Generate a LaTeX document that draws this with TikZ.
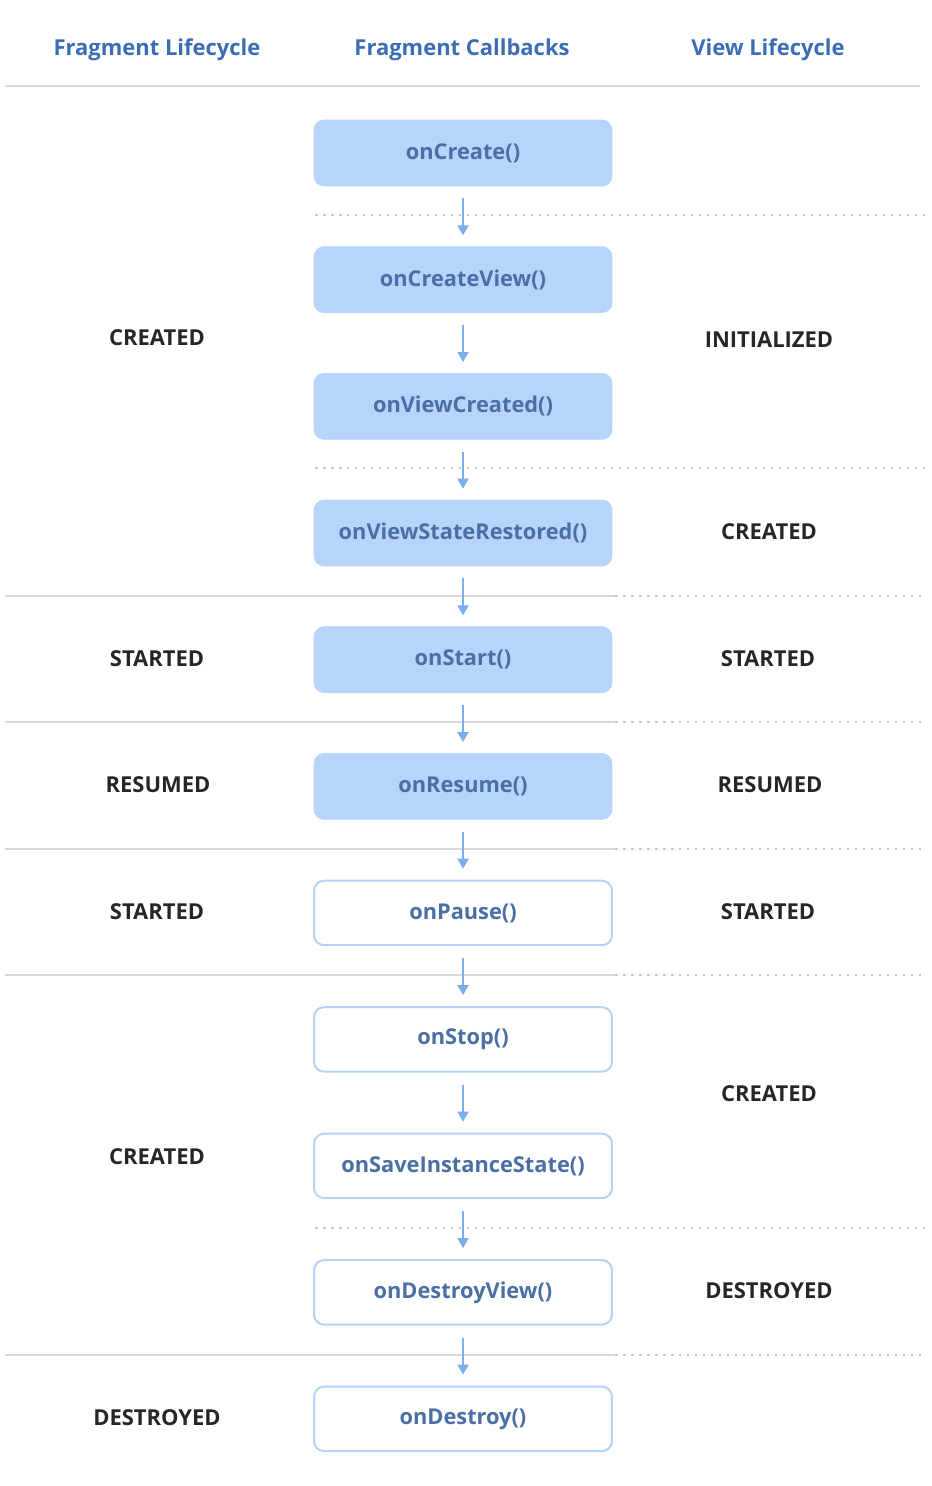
\documentclass[tikz,border=0pt]{standalone}
\usepackage{fontspec}
\setmainfont{Open Sans}
\usepackage{xcolor}
\usetikzlibrary{arrows.meta, positioning, calc}

\definecolor{cbfill}{HTML}{B7D4FA}
\definecolor{cbline}{HTML}{B5D2F8}
\definecolor{cbtext}{HTML}{4A6FA5}
\definecolor{headblue}{HTML}{3C6DB4}
\definecolor{arrowblue}{HTML}{7BAEEB}
\definecolor{sepgray}{HTML}{D9D9D9}
\definecolor{dotgray}{HTML}{C8C8C8}

\begin{document}
\begin{tikzpicture}[
    x=0.02cm, y=-0.02cm,
    node distance=1.2cm,
    cb/.style={rectangle, rounded corners=0.2cm, minimum width=5.96cm, align=center, font=\bfseries\fontsize{12.4}{14}\selectfont, text=cbtext},
    active/.style={cb, fill=cbfill, draw=cbfill, minimum height=1.32cm},
    passive/.style={cb, fill=white, draw=cbline, line width=0.04cm, minimum height=1.29cm},
    state/.style={font=\bfseries\fontsize{12.5}{14}\selectfont, text=black!85},
    head/.style={font=\bfseries\fontsize{12.5}{14}\selectfont, text=headblue},
    arrow/.style={-{Triangle[width=0.22cm, length=0.2cm]}, line width=0.04cm, draw=arrowblue, shorten <=0.24cm, shorten >=0.22cm},
    sep/.style={line width=0.05cm, draw=sepgray},
    dots/.style={line width=0.035cm, draw=dotgray, dash pattern=on 0.05cm off 0.11cm}
]
    \useasboundingbox (0,0) rectangle (932,1486);

    % Column headers
    \node[head] (fraglc) at (157,50) {Fragment Lifecycle};
    \node[head] (fragcb) at (462,50) {Fragment Callbacks};
    \node[head] (viewlc) at (768,50) {View Lifecycle};
    \draw[sep] (5,86) -- (920,86);

    % Separators
    \draw[dots] (315,215) -- (925,215);
    \draw[dots] (315,468) -- (925,468);
    \draw[sep] (5,596) -- (615,596);  \draw[dots] (615,596) -- (925,596);
    \draw[sep] (5,722) -- (615,722);  \draw[dots] (615,722) -- (925,722);
    \draw[sep] (5,849) -- (615,849);  \draw[dots] (615,849) -- (925,849);
    \draw[sep] (5,975) -- (615,975);  \draw[dots] (615,975) -- (925,975);
    \draw[dots] (315,1228) -- (925,1228);
    \draw[sep] (5,1355) -- (615,1355); \draw[dots] (615,1355) -- (925,1355);

    % Callbacks
    \node[active] (create) at (463,153) {onCreate()};
    \node[active, below=of create] (createview) {onCreateView()};
    \node[active, below=of createview] (viewcreated) {onViewCreated()};
    \node[active, below=of viewcreated] (restored) {onViewStateRestored()};
    \node[active, below=of restored] (start) {onStart()};
    \node[active, below=of start] (resume) {onResume()};
    \node[passive, below=of resume] (pause) {onPause()};
    \node[passive, below=of pause] (stop) {onStop()};
    \node[passive, below=of stop] (save) {onSaveInstanceState()};
    \node[passive, below=of save] (destroyview) {onDestroyView()};
    \node[passive, below=of destroyview] (destroy) {onDestroy()};

    % Fragment states
    \node[state] (fcreated) at (157,338) {CREATED};
    \node[state] (fstarted) at (157,659) {STARTED};
    \node[state] (fresumed) at (158,785) {RESUMED};
    \node[state] (fstopped) at (157,912) {STARTED};
    \node[state] (fcreated2) at (157,1157) {CREATED};
    \node[state] (fdestroyed) at (157,1418) {DESTROYED};

    % View states
    \node[state] (vinit) at (769,340) {INITIALIZED};
    \node[state] (vcreated) at (769,532) {CREATED};
    \node[state] (vstarted) at (768,659) {STARTED};
    \node[state] (vresumed) at (770,785) {RESUMED};
    \node[state] (vstopped) at (768,912) {STARTED};
    \node[state] (vcreated2) at (769,1094) {CREATED};
    \node[state] (vdestroyed) at (769,1291) {DESTROYED};

    % Connections
    \draw[arrow] (create) -- (createview);
    \draw[arrow] (createview) -- (viewcreated);
    \draw[arrow] (viewcreated) -- (restored);
    \draw[arrow] (restored) -- (start);
    \draw[arrow] (start) -- (resume);
    \draw[arrow] (resume) -- (pause);
    \draw[arrow] (pause) -- (stop);
    \draw[arrow] (stop) -- (save);
    \draw[arrow] (save) -- (destroyview);
    \draw[arrow] (destroyview) -- (destroy);
\end{tikzpicture}
\end{document}
